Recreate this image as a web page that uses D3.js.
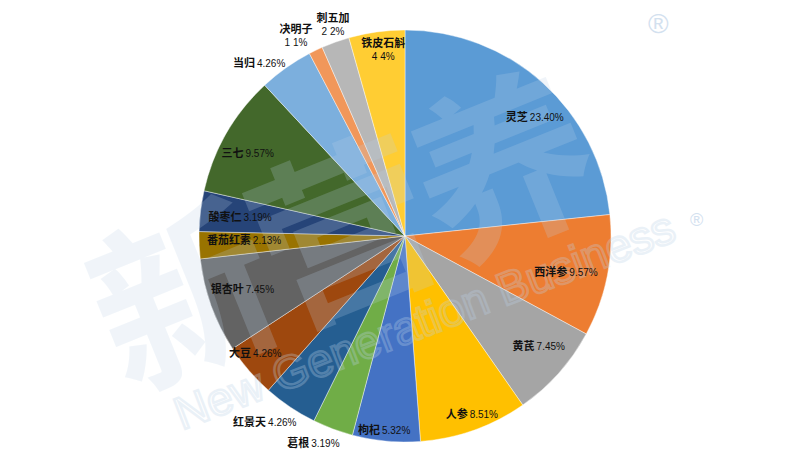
<!DOCTYPE html>
<html>
<head>
<meta charset="utf-8">
<script src="https://cdn.jsdelivr.net/npm/d3@7"></script>
<style>
html,body{margin:0;padding:0;background:#fff;}
svg{display:block;}
</style>
</head>
<body>
<svg id="chart" width="800" height="450"></svg>
<script>
// ---- data ----
const categories = ["灵芝","西洋参","黄芪","人参","枸杞","葛根","红景天","大豆","银杏叶","番茄红素","酸枣仁","三七","当归","决明子","刺五加","铁皮石斛"];
const values     = [23.40, 9.57, 7.45, 8.51, 5.32, 3.19, 4.26, 4.26, 7.45, 2.13, 3.19, 9.57, 4.26, 1.1, 2.2, 4.4];
const valueLabels = ["23.40%","9.57%","7.45%","8.51%","5.32%","3.19%","4.26%","4.26%","7.45%","2.13%","3.19%","9.57%","4.26%","1 1%","2 2%","4 4%"];
const colors = ["#5b9bd5","#ed7d31","#a5a5a5","#ffc000","#4472c4","#70ad47","#255e91","#9e480e","#636363","#997300","#264478","#43682b","#7cafdd","#f1975a","#b7b7b7","#ffcd33"];
// label layout: distance of label centre from pie centre (px), angular nudge (deg), stacked on two lines
const labelDist  = [176,165,173,190,195,226,233,190,171,161,166,178,226,228,223,187];
const labelShift = [5.5,1.4,-2.4,-1,0.9,3.4,3.1,2.8,1.8,1.2,-0.4,-2,-4.9,-2.9,0.9,1.2];
const labelStacked = [false,false,false,false,false,false,false,false,false,false,false,false,false,true,true,true];

const svg = d3.select("#chart");
const cx = 405, cy = 236, R = 206;

const pie = d3.pie().sort(null).value(d => d.v);
const data = categories.map((c,i) => ({name:c, v:values[i], lab:valueLabels[i], col:colors[i],
  dist:labelDist[i], shift:labelShift[i], stacked:labelStacked[i]}));
const arcs = pie(data);
const arc = d3.arc().innerRadius(0).outerRadius(R);

const g = svg.append("g").attr("transform", `translate(${cx},${cy})`);
g.selectAll("path").data(arcs).join("path")
  .attr("d", arc)
  .attr("fill", d => d.data.col)
  .attr("stroke", "#ffffff")
  .attr("stroke-opacity", 0.6)
  .attr("stroke-width", 0.7);

// faint watermark
const wm = svg.append("g").attr("pointer-events","none");
wm.append("text")
  .attr("transform","translate(365,295) rotate(-22)")
  .attr("text-anchor","middle")
  .attr("font-family","Noto Sans CJK SC")
  .attr("font-weight",700)
  .attr("font-size",180)
  .attr("letter-spacing",-8)
  .attr("fill","#bcd2e8")
  .attr("opacity",0.22)
  .text("新营养");
wm.append("text")
  .attr("transform","translate(430,335) rotate(-21)")
  .attr("text-anchor","middle")
  .attr("font-family","Liberation Sans")
  .attr("font-size",46)
  .attr("fill","none")
  .attr("stroke","#bcd2e8")
  .attr("stroke-width",2.5)
  .attr("opacity",0.3)
  .text("New Generation Business");
wm.append("text").attr("x",648).attr("y",33).attr("font-family","Liberation Sans").attr("font-size",28)
  .attr("fill","#d3e1ef").text("®");
wm.append("text").attr("x",690).attr("y",226).attr("font-family","Liberation Sans").attr("font-size",18)
  .attr("fill","#d3e1ef").text("®");

// labels
const lg = svg.append("g").attr("transform", `translate(${cx},${cy})`);
arcs.forEach(a => {
  const mid = (a.startAngle + a.endAngle) / 2 + a.data.shift * Math.PI / 180;
  const x = Math.sin(mid) * a.data.dist;
  const y = -Math.cos(mid) * a.data.dist;
  const t = lg.append("text")
    .attr("text-anchor","middle")
    .attr("fill","#111");
  if (a.data.stacked) {
    t.attr("transform", `translate(${x},${y-3})`);
    t.append("tspan").attr("x",0).attr("dy",0)
      .attr("font-family","Noto Sans CJK SC").attr("font-weight",700).attr("font-size",11)
      .text(a.data.name);
    t.append("tspan").attr("x",0).attr("dy",13)
      .attr("font-family","Liberation Sans").attr("font-size",10)
      .text(a.data.lab);
  } else {
    t.attr("transform", `translate(${x},${y+4})`);
    t.append("tspan")
      .attr("font-family","Noto Sans CJK SC").attr("font-weight",700).attr("font-size",11)
      .text(a.data.name);
    t.append("tspan").attr("dx",2)
      .attr("font-family","Liberation Sans").attr("font-size",10)
      .text(a.data.lab);
  }
});
</script>
</body>
</html>
